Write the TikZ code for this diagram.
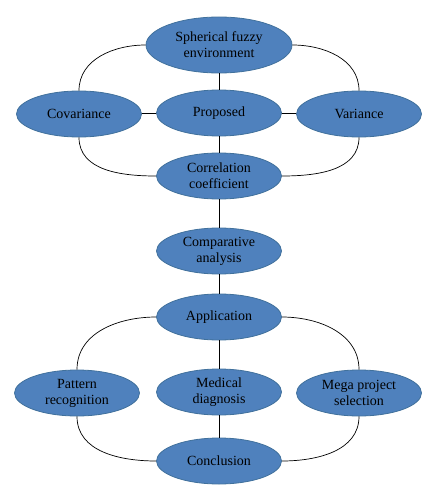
\documentclass[tikz,border=0pt]{standalone}
\usepackage{fontspec}
\setmainfont{Liberation Serif}
\usepackage{tikz}
\usetikzlibrary{shapes.geometric}

\definecolor{topicfill}{HTML}{4F81BD}
\definecolor{topicline}{HTML}{41719C}

\begin{document}
\begin{tikzpicture}[x=1pt, y=-1pt,
    topic/.style={ellipse, draw=topicline, line width=0.8pt, fill=topicfill, inner sep=0pt,
      minimum width=125pt, minimum height=46pt, align=center,
      font=\fontsize{14}{16}\selectfont},
    link/.style={draw, black, line width=0.7pt}]
  \useasboundingbox (0,0) rectangle (437,500);
%upper part
  \node[topic, minimum width=146pt, minimum height=56pt] (sph) at (219,45) {Spherical fuzzy\\environment};
  \node[topic] (cov) at (79,114) {Covariance};
  \node[topic] (prop) at (219,113) {Proposed};
  \node[topic] (var) at (359,114) {Variance};
  \node[topic] (corr) at (219,176) {Correlation\\coefficient};
  \node[topic] (comp) at (219,251) {Comparative\\analysis};
%lower part
  \node[topic] (app) at (219,317) {Application};
  \node[topic] (pat) at (77,393) {Pattern\\recognition};
  \node[topic] (med) at (219,392) {Medical\\diagnosis};
  \node[topic] (mega) at (359,393) {Mega project\\selection};
  \node[topic] (conc) at (219,461) {Conclusion};
  \path[link] (sph) -- (prop);
  \path[link] (cov) -- (prop);
  \path[link] (prop) -- (var);
  \path[link] (prop) -- (corr);
  \path[link] (corr) -- (comp);
  \path[link] (comp) -- (app);
  \path[link] (app) -- (med);
  \path[link] (med) -- (conc);
  \path[link] (sph.west) to[out=180, in=90] (cov.north);
  \path[link] (sph.east) to[out=0, in=90] (var.north);
  \path[link] (cov.south) to[out=-90, in=180] (corr.west);
  \path[link] (var.south) to[out=-90, in=0] (corr.east);
  \path[link] (app.west) to[out=180, in=90] (pat.north);
  \path[link] (app.east) to[out=0, in=90] (mega.north);
  \path[link] (pat.south) to[out=-90, in=180] (conc.west);
  \path[link] (mega.south) to[out=-90, in=0] (conc.east);
\end{tikzpicture}
\end{document}
